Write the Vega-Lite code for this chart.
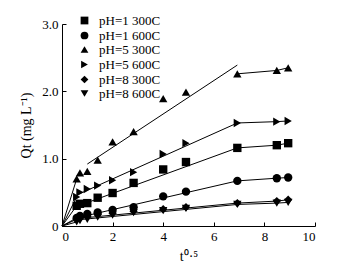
{
  "$schema": "https://vega.github.io/schema/vega-lite/v6.json",
  "width": 253,
  "height": 202,
  "autosize": {"type": "none"},
  "padding": {"left": 62, "top": 24, "right": 47, "bottom": 48},
  "background": "white",
  "config": {
    "view": {"stroke": null},
    "font": "Liberation Serif",
    "axis": {"domainColor": "black", "tickColor": "black", "labelColor": "black", "titleColor": "black", "grid": false, "labelFont": "Liberation Serif", "titleFont": "Liberation Serif", "labelFontSize": 13, "titleFontSize": 14, "titleFontWeight": "normal", "tickSize": -4, "domainWidth": 1, "tickWidth": 1},
    "legend": {"labelFont": "Liberation Serif", "labelFontSize": 13, "labelColor": "black"}
  },
  "datasets": {
    "pts": [
      {"series": "pH=1 300C", "x": 0.58, "y": 0.30}, {"series": "pH=1 300C", "x": 0.71, "y": 0.33}, {"series": "pH=1 300C", "x": 1.0, "y": 0.34}, {"series": "pH=1 300C", "x": 1.41, "y": 0.42}, {"series": "pH=1 300C", "x": 2.0, "y": 0.49}, {"series": "pH=1 300C", "x": 2.83, "y": 0.64}, {"series": "pH=1 300C", "x": 4.0, "y": 0.84}, {"series": "pH=1 300C", "x": 4.9, "y": 0.95}, {"series": "pH=1 300C", "x": 6.93, "y": 1.16}, {"series": "pH=1 300C", "x": 8.49, "y": 1.20}, {"series": "pH=1 300C", "x": 8.94, "y": 1.23},
      {"series": "pH=1 600C", "x": 0.58, "y": 0.12}, {"series": "pH=1 600C", "x": 0.71, "y": 0.15}, {"series": "pH=1 600C", "x": 1.0, "y": 0.18}, {"series": "pH=1 600C", "x": 1.41, "y": 0.20}, {"series": "pH=1 600C", "x": 2.0, "y": 0.24}, {"series": "pH=1 600C", "x": 2.83, "y": 0.28}, {"series": "pH=1 600C", "x": 4.0, "y": 0.44}, {"series": "pH=1 600C", "x": 4.9, "y": 0.51}, {"series": "pH=1 600C", "x": 6.93, "y": 0.67}, {"series": "pH=1 600C", "x": 8.49, "y": 0.71}, {"series": "pH=1 600C", "x": 8.94, "y": 0.72},
      {"series": "pH=5 300C", "x": 0.58, "y": 0.70}, {"series": "pH=5 300C", "x": 0.71, "y": 0.79}, {"series": "pH=5 300C", "x": 1.0, "y": 0.81}, {"series": "pH=5 300C", "x": 1.41, "y": 0.98}, {"series": "pH=5 300C", "x": 2.0, "y": 1.25}, {"series": "pH=5 300C", "x": 2.83, "y": 1.40}, {"series": "pH=5 300C", "x": 4.0, "y": 1.89}, {"series": "pH=5 300C", "x": 4.9, "y": 1.99}, {"series": "pH=5 300C", "x": 6.93, "y": 2.26}, {"series": "pH=5 300C", "x": 8.49, "y": 2.31}, {"series": "pH=5 300C", "x": 8.94, "y": 2.35},
      {"series": "pH=5 600C", "x": 0.58, "y": 0.43}, {"series": "pH=5 600C", "x": 0.71, "y": 0.50}, {"series": "pH=5 600C", "x": 1.0, "y": 0.55}, {"series": "pH=5 600C", "x": 1.41, "y": 0.60}, {"series": "pH=5 600C", "x": 2.0, "y": 0.68}, {"series": "pH=5 600C", "x": 2.83, "y": 0.80}, {"series": "pH=5 600C", "x": 4.0, "y": 1.07}, {"series": "pH=5 600C", "x": 4.9, "y": 1.23}, {"series": "pH=5 600C", "x": 6.93, "y": 1.53}, {"series": "pH=5 600C", "x": 8.49, "y": 1.55}, {"series": "pH=5 600C", "x": 8.94, "y": 1.56},
      {"series": "pH=8 300C", "x": 0.58, "y": 0.10}, {"series": "pH=8 300C", "x": 0.71, "y": 0.12}, {"series": "pH=8 300C", "x": 1.0, "y": 0.14}, {"series": "pH=8 300C", "x": 1.41, "y": 0.17}, {"series": "pH=8 300C", "x": 2.0, "y": 0.19}, {"series": "pH=8 300C", "x": 2.83, "y": 0.22}, {"series": "pH=8 300C", "x": 4.0, "y": 0.25}, {"series": "pH=8 300C", "x": 4.9, "y": 0.28}, {"series": "pH=8 300C", "x": 6.93, "y": 0.34}, {"series": "pH=8 300C", "x": 8.49, "y": 0.37}, {"series": "pH=8 300C", "x": 8.94, "y": 0.39},
      {"series": "pH=8 600C", "x": 0.58, "y": 0.06}, {"series": "pH=8 600C", "x": 0.71, "y": 0.08}, {"series": "pH=8 600C", "x": 1.0, "y": 0.10}, {"series": "pH=8 600C", "x": 1.41, "y": 0.13}, {"series": "pH=8 600C", "x": 2.0, "y": 0.16}, {"series": "pH=8 600C", "x": 2.83, "y": 0.20}, {"series": "pH=8 600C", "x": 4.0, "y": 0.23}, {"series": "pH=8 600C", "x": 4.9, "y": 0.26}, {"series": "pH=8 600C", "x": 6.93, "y": 0.32}, {"series": "pH=8 600C", "x": 8.49, "y": 0.34}, {"series": "pH=8 600C", "x": 8.94, "y": 0.35}
    ],
    "fit": [
      {"series": "pH=1 300C", "seg": "a", "x": 0, "y": 0}, {"series": "pH=1 300C", "seg": "a", "x": 0.58, "y": 0.30},
      {"series": "pH=1 300C", "seg": "b", "x": 0.58, "y": 0.29}, {"series": "pH=1 300C", "seg": "b", "x": 6.93, "y": 1.16},
      {"series": "pH=1 300C", "seg": "c", "x": 6.93, "y": 1.16}, {"series": "pH=1 300C", "seg": "c", "x": 8.49, "y": 1.20}, {"series": "pH=1 300C", "seg": "c", "x": 8.94, "y": 1.23},
      {"series": "pH=1 600C", "seg": "a", "x": 0, "y": 0}, {"series": "pH=1 600C", "seg": "a", "x": 0.58, "y": 0.12},
      {"series": "pH=1 600C", "seg": "b", "x": 0.58, "y": 0.12}, {"series": "pH=1 600C", "seg": "b", "x": 6.93, "y": 0.67},
      {"series": "pH=1 600C", "seg": "c", "x": 6.93, "y": 0.67}, {"series": "pH=1 600C", "seg": "c", "x": 8.49, "y": 0.71}, {"series": "pH=1 600C", "seg": "c", "x": 8.94, "y": 0.72},
      {"series": "pH=5 300C", "seg": "a", "x": 0, "y": 0}, {"series": "pH=5 300C", "seg": "a", "x": 0.58, "y": 0.70},
      {"series": "pH=5 300C", "seg": "b", "x": 1.0, "y": 0.92}, {"series": "pH=5 300C", "seg": "b", "x": 6.93, "y": 2.39},
      {"series": "pH=5 300C", "seg": "c", "x": 6.93, "y": 2.26}, {"series": "pH=5 300C", "seg": "c", "x": 8.49, "y": 2.31}, {"series": "pH=5 300C", "seg": "c", "x": 8.94, "y": 2.35},
      {"series": "pH=5 600C", "seg": "a", "x": 0, "y": 0}, {"series": "pH=5 600C", "seg": "a", "x": 0.58, "y": 0.43},
      {"series": "pH=5 600C", "seg": "b", "x": 0.58, "y": 0.46}, {"series": "pH=5 600C", "seg": "b", "x": 6.93, "y": 1.53},
      {"series": "pH=5 600C", "seg": "c", "x": 6.93, "y": 1.53}, {"series": "pH=5 600C", "seg": "c", "x": 8.49, "y": 1.55}, {"series": "pH=5 600C", "seg": "c", "x": 8.94, "y": 1.56},
      {"series": "pH=8 300C", "seg": "a", "x": 0, "y": 0}, {"series": "pH=8 300C", "seg": "a", "x": 0.58, "y": 0.10},
      {"series": "pH=8 300C", "seg": "b", "x": 0.58, "y": 0.11}, {"series": "pH=8 300C", "seg": "b", "x": 6.93, "y": 0.34},
      {"series": "pH=8 300C", "seg": "c", "x": 6.93, "y": 0.34}, {"series": "pH=8 300C", "seg": "c", "x": 8.49, "y": 0.37}, {"series": "pH=8 300C", "seg": "c", "x": 8.94, "y": 0.39},
      {"series": "pH=8 600C", "seg": "a", "x": 0, "y": 0}, {"series": "pH=8 600C", "seg": "a", "x": 0.58, "y": 0.06},
      {"series": "pH=8 600C", "seg": "b", "x": 0.58, "y": 0.09}, {"series": "pH=8 600C", "seg": "b", "x": 6.93, "y": 0.32},
      {"series": "pH=8 600C", "seg": "c", "x": 6.93, "y": 0.32}, {"series": "pH=8 600C", "seg": "c", "x": 8.49, "y": 0.34}, {"series": "pH=8 600C", "seg": "c", "x": 8.94, "y": 0.35}
    ]
  },
  "layer": [
    {
      "data": {"name": "fit"},
      "mark": {"type": "line", "color": "black", "strokeWidth": 1},
      "encoding": {
        "x": {"field": "x", "type": "quantitative", "scale": {"domain": [0, 10]}},
        "y": {"field": "y", "type": "quantitative", "scale": {"domain": [0, 3]}},
        "detail": [{"field": "series"}, {"field": "seg"}],
        "order": {"field": "x"}
      }
    },
    {
      "data": {"name": "pts"},
      "mark": {"type": "point", "filled": true, "color": "black", "opacity": 1, "size": 70},
      "encoding": {
        "x": {"field": "x", "type": "quantitative", "scale": {"domain": [0, 10]}, "axis": {"title": "t⁰·⁵", "values": [0,1,2,3,4,5,6,7,8,9,10], "labelPadding": 8, "titlePadding": 6}},
        "y": {"field": "y", "type": "quantitative", "scale": {"domain": [0, 3]}, "axis": {"title": "Qt (mg L⁻¹)", "values": [0, 0.5, 1, 1.5, 2, 2.5, 3], "labelExpr": "datum.value == 0 ? '0' : format(datum.value, '.1f')", "labelPadding": 8, "titlePadding": 8}},
        "shape": {
          "field": "series", "type": "nominal",
          "scale": {"domain": ["pH=1 300C", "pH=1 600C", "pH=5 300C", "pH=5 600C", "pH=8 300C", "pH=8 600C"], "range": ["square", "circle", "triangle-up", "triangle-right", "diamond", "triangle-down"]},
          "legend": {"title": null, "orient": "none", "legendX": 16, "legendY": -10, "padding": 0, "rowPadding": 0, "symbolSize": 60, "symbolFillColor": "black", "symbolStrokeColor": "black", "labelOffset": 8}
        }
      }
    }
  ]
}
